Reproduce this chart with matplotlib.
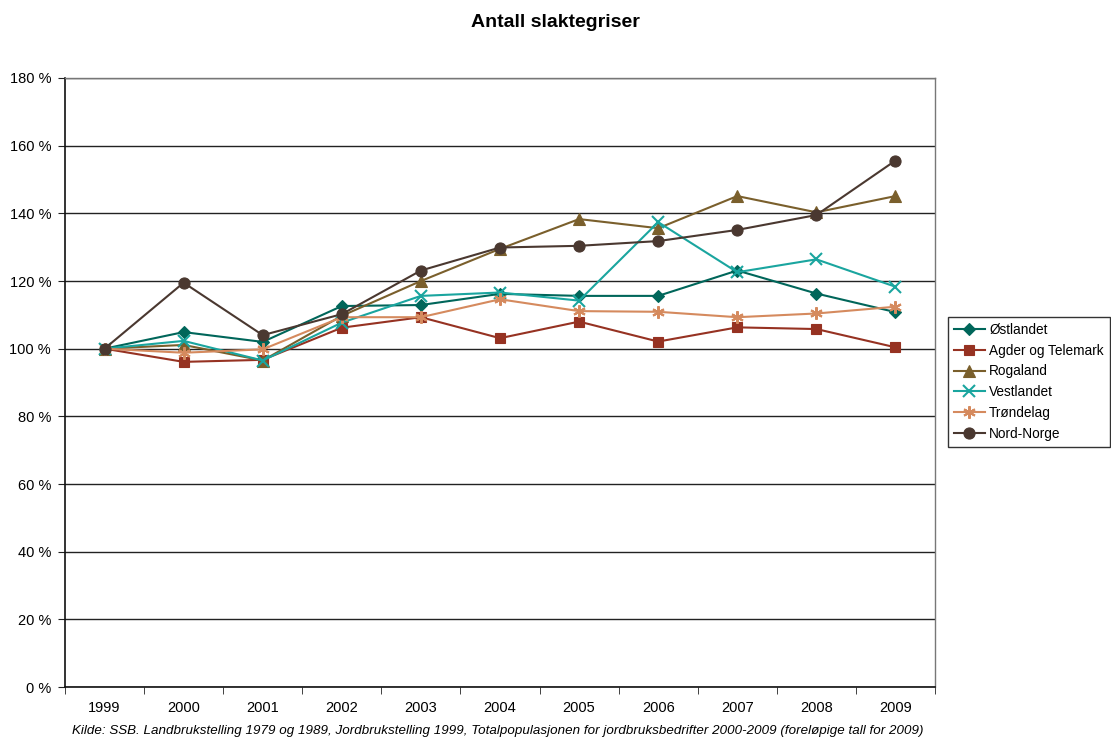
import matplotlib
matplotlib.use("Agg")
import matplotlib.pyplot as plt
from matplotlib.ticker import FixedLocator, FuncFormatter

plt.rcParams["font.family"] = ["Liberation Sans", "DejaVu Sans"]

years = ["1999", "2000", "2001", "2002", "2003", "2004", "2005", "2006", "2007", "2008", "2009"]

# indeks, 1999 = 100 %
ostlandet = [100, 104.9, 102.0, 112.6, 112.9, 116.2, 115.6, 115.6, 123.1, 116.3, 110.8]
agder_telemark = [100, 96.1, 96.7, 106.2, 109.3, 103.1, 108.0, 102.1, 106.3, 105.8, 100.4]
rogaland = [100, 101.1, 96.5, 109.7, 120.0, 129.5, 138.3, 135.6, 145.1, 140.3, 145.1]
vestlandet = [100, 102.3, 96.5, 107.7, 115.6, 116.6, 114.2, 137.4, 122.6, 126.4, 118.3]
trondelag = [100, 98.8, 99.8, 109.3, 109.3, 114.6, 111.1, 110.9, 109.3, 110.4, 112.4]
nord_norge = [100, 119.5, 104.0, 110.2, 123.1, 129.9, 130.4, 131.8, 135.1, 139.5, 155.6]

series = [
    ("Østlandet", ostlandet, "#00665a", "D", 6.5),
    ("Agder og Telemark", agder_telemark, "#963222", "s", 7),
    ("Rogaland", rogaland, "#7a5f2c", "^", 8),
    ("Vestlandet", vestlandet, "#1aa59f", "x", 8),
    ("Trøndelag", trondelag, "#d58a5e", (6, 2, 0), 9),
    ("Nord-Norge", nord_norge, "#4a3830", "o", 8),
]

fig = plt.figure(figsize=(11.11, 7.40), dpi=100)
ax = fig.add_axes([0.0585, 0.0716, 0.7831, 0.823])

x = list(range(len(years)))
for name, vals, color, marker, ms in series:
    ax.plot(x, vals, color=color, lw=1.5, marker=marker, markersize=ms,
            markeredgewidth=1.5 if marker in ("x", (6, 2, 0)) else 0.8,
            markeredgecolor=color, label=name)

ax.set_xlim(-0.5, len(years) - 0.5)
ax.set_ylim(0, 180)
ax.set_yticks(range(0, 181, 20))
ax.yaxis.set_major_formatter(FuncFormatter(lambda v, _: f"{int(v)} %"))
ax.grid(axis="y", color="#222222", lw=1)
ax.set_axisbelow(True)

ax.set_xticks(x)
ax.set_xticklabels(years)
ax.xaxis.set_minor_locator(FixedLocator([i - 0.5 for i in range(len(years) + 1)]))
ax.tick_params(axis="x", which="major", length=0, pad=10, labelsize=10.5)
ax.tick_params(axis="x", which="minor", length=5, color="#222222", direction="out")
ax.tick_params(axis="y", length=5, color="#222222", direction="out", labelsize=10.5, pad=5)

for side in ("left", "bottom"):
    ax.spines[side].set_color("#111111")
    ax.spines[side].set_linewidth(1.2)
for side in ("top", "right"):
    ax.spines[side].set_color("#777777")
    ax.spines[side].set_linewidth(1)

fig.text(0.5, 0.970, "Antall slaktegriser", ha="center", va="center",
         fontsize=14, fontweight="bold")
fig.text(0.448, 0.012, "Kilde: SSB. Landbrukstelling 1979 og 1989, Jordbrukstelling 1999, "
         "Totalpopulasjonen for jordbruksbedrifter 2000-2009 (foreløpige tall for 2009)",
         ha="center", va="center", fontsize=9.65, style="italic")

leg = fig.legend(loc="upper left", bbox_to_anchor=(0.853, 0.572), fontsize=9.8,
                 frameon=True, fancybox=False, edgecolor="black", borderpad=0.45,
                 labelspacing=0.5, handlelength=2.3, handletextpad=0.3,
                 borderaxespad=0)
leg.get_frame().set_linewidth(1)

fig.savefig("out.png", dpi=100)
